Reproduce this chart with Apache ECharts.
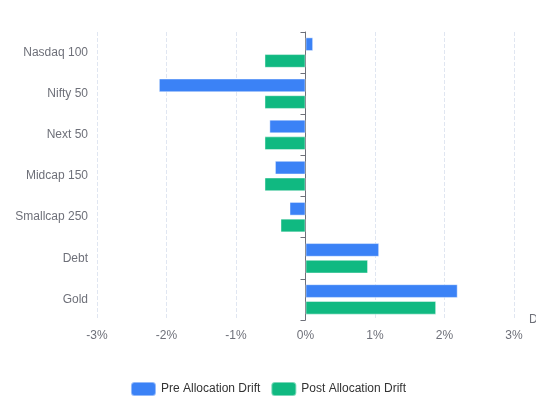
<!DOCTYPE html>
<html>
<head>
<meta charset="utf-8">
<script src="https://cdn.jsdelivr.net/npm/echarts@6/dist/echarts.min.js"></script>
<style>
  html, body { margin: 0; padding: 0; background: #fff; }
  #chart { width: 536px; height: 400px; }
</style>
</head>
<body>
<div id="chart"></div>
<script>
// categories top to bottom
var categories = ['Nasdaq 100', 'Nifty 50', 'Next 50', 'Midcap 150', 'Smallcap 250', 'Debt', 'Gold'];
var preDrift = [0.11, -2.11, -0.52, -0.44, -0.23, 1.06, 2.19];
var postDrift = [-0.59, -0.59, -0.59, -0.59, -0.36, 0.9, 1.88];

var chart = echarts.init(document.getElementById('chart'));

var option = {
  backgroundColor: '#ffffff',
  color: ['#3b82f6', '#10b981'],
  grid: {
    left: 97,
    right: 22,
    top: 32,
    bottom: 80,
    outerBoundsMode: 'none',
    containLabel: false
  },
  legend: {
    bottom: -2,
    itemWidth: 25,
    itemHeight: 14,
    itemGap: 10,
    textStyle: { color: '#333', fontSize: 12 },
    data: ['Pre Allocation Drift', 'Post Allocation Drift']
  },
  xAxis: {
    type: 'value',
    name: 'Drift (%)',
    min: -3,
    max: 3,
    interval: 1,
    axisLine: { show: false },
    axisTick: { show: false },
    axisLabel: {
      color: '#6e7079',
      margin: 10,
      formatter: function (v) { return v + '%'; }
    },
    nameTextStyle: { color: '#6e7079' },
    splitLine: { lineStyle: { type: 'dashed', color: '#e0e6f1' } }
  },
  yAxis: {
    type: 'category',
    inverse: true,
    data: categories,
    axisLine: { show: true, lineStyle: { color: '#6e7079' } },
    axisTick: { show: true },
    axisLabel: { color: '#6e7079', margin: 9 }
  },
  series: [{
    name: 'Pre Allocation Drift',
    type: 'bar',
    barGap: '22%',
    barCategoryGap: '26%',
    itemStyle: { borderColor: 'rgba(255,255,255,0.45)', borderWidth: 1 },
    data: preDrift
  }, {
    name: 'Post Allocation Drift',
    type: 'bar',
    barGap: '22%',
    barCategoryGap: '26%',
    itemStyle: { borderColor: 'rgba(255,255,255,0.45)', borderWidth: 1 },
    data: postDrift
  }]
};

chart.setOption(option);
</script>
</body>
</html>
